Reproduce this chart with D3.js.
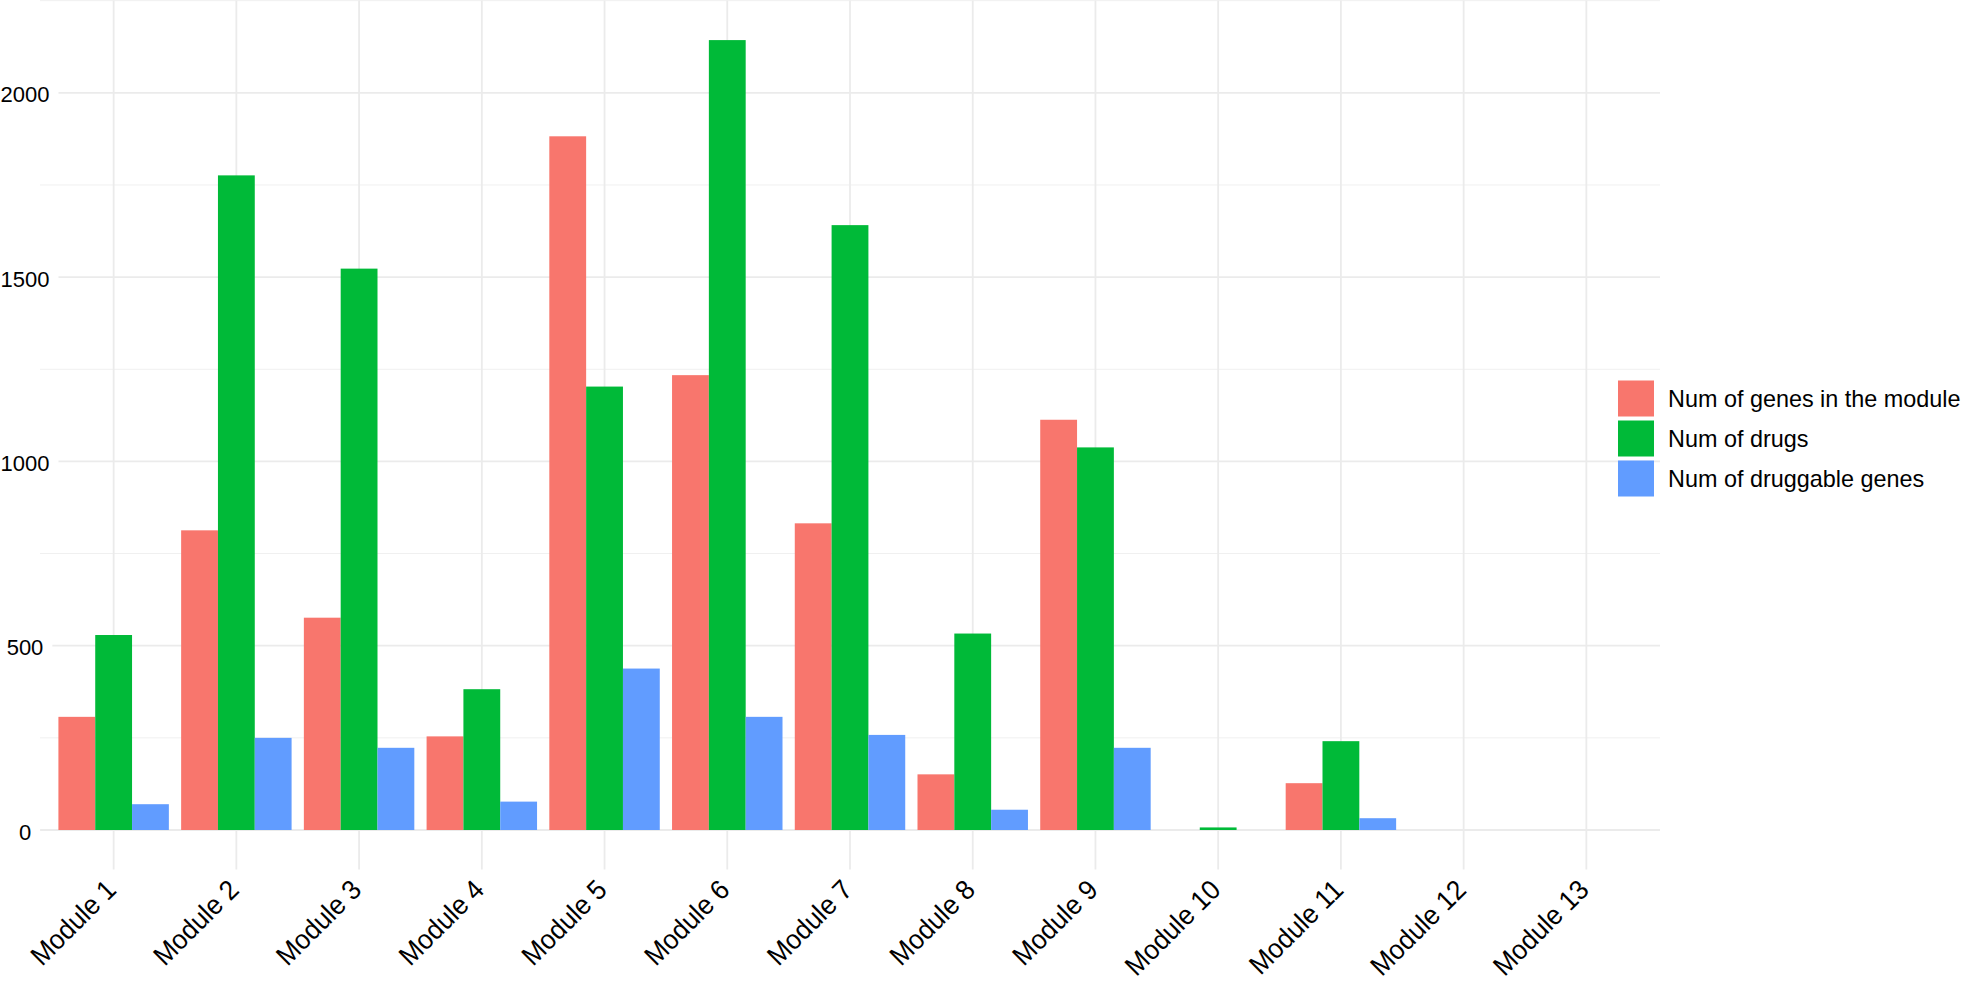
<!DOCTYPE html>
<html><head><meta charset="utf-8">
<script src="https://cdn.jsdelivr.net/npm/d3@7"></script>
<style>body{margin:0;background:#fff;} text{font-family:"Liberation Sans",Arial,Helvetica,sans-serif;fill:#000;}</style>
</head><body><svg id="c" width="1961" height="982"></svg>
<script>
const categories = ["Module 1","Module 2","Module 3","Module 4","Module 5","Module 6","Module 7","Module 8","Module 9","Module 10","Module 11","Module 12","Module 13"];
const seriesNames = ["Num of genes in the module","Num of drugs","Num of druggable genes"];
const genesInModule = [307, 813, 576, 254, 1882, 1234, 832, 151, 1113, 0, 127, 0, 0];
const numDrugs      = [529, 1776, 1523, 382, 1203, 2143, 1641, 533, 1038, 7, 241, 0, 0];
const druggable     = [70, 250, 223, 77, 438, 307, 258, 55, 223, 0, 32, 0, 0];
const yTicks = [0, 500, 1000, 1500, 2000];
const yMinorTicks = [250, 750, 1250, 1750, 2250];
const colors = ["#F8766D", "#00BA38", "#619CFF"];

const series = [genesInModule, numDrugs, druggable];
const svg = d3.select("#c");
const L = 40, R = 1660, T = 0.6, B = 869.5;
const maxV = d3.max(series.flat());
const y = d3.scaleLinear().domain([-0.05*maxV, 1.05*maxV]).range([B, T]);
const x = d3.scalePoint().domain(categories).range([L, R]).padding(0.6);
const bw = x.step();
const inner = d3.scaleBand().domain(seriesNames).range([-0.45*bw, 0.45*bw]);

const g = svg.append("g");
g.selectAll(".minor").data(yMinorTicks).join("line")
  .attr("x1", L).attr("x2", R).attr("y1", d=>y(d)).attr("y2", d=>y(d))
  .attr("stroke", "#f0f0f0").attr("stroke-width", 1);
g.selectAll(".major").data(yTicks).join("line")
  .attr("x1", L).attr("x2", R).attr("y1", d=>y(d)).attr("y2", d=>y(d))
  .attr("stroke", "#ebebeb").attr("stroke-width", 1.8);
g.selectAll(".vmaj").data(categories).join("line")
  .attr("x1", d=>x(d)).attr("x2", d=>x(d)).attr("y1", T).attr("y2", B)
  .attr("stroke", "#ebebeb").attr("stroke-width", 1.8);

series.forEach((vals, si) => {
  g.append("g").selectAll("rect").data(categories.map((c,i)=>({c, v: vals[i]})).filter(d=>d.v>0)).join("rect")
    .attr("x", d => x(d.c) + inner(seriesNames[si]))
    .attr("width", inner.bandwidth())
    .attr("y", d => y(d.v))
    .attr("height", d => y(0) - y(d.v))
    .attr("fill", colors[si]);
});

const yl = svg.append("g");
yTicks.forEach(t => {
  const txt = yl.append("text").attr("x", 25).attr("y", y(t) + 2).attr("text-anchor", "middle")
    .attr("dominant-baseline", "central").style("font-size", "22px").text(t);
  const bb = txt.node().getBBox();
  const right = Math.max(L, bb.x + bb.width + 9);
  yl.insert("rect", "text").attr("x", 0).attr("y", y(t) - 3).attr("width", right).attr("height", 6).attr("fill", "#fff");
});

svg.append("g").selectAll("text").data(categories).join("text")
  .attr("transform", d => `translate(${x(d) + 4},${B + 22}) rotate(-45) scale(1,1.06)`)
  .attr("text-anchor", "end").style("font-size", "26px").text(d => d);

const lg = svg.append("g");
seriesNames.forEach((s, i) => {
  const yy = 380.5 + i*40;
  lg.append("rect").attr("x", 1618).attr("y", yy).attr("width", 36).attr("height", 36).attr("fill", colors[i]);
  lg.append("text").attr("x", 1668).attr("y", yy + 18).attr("dominant-baseline", "central")
    .style("font-size", "23.4px").text(s);
});
</script></body></html>
